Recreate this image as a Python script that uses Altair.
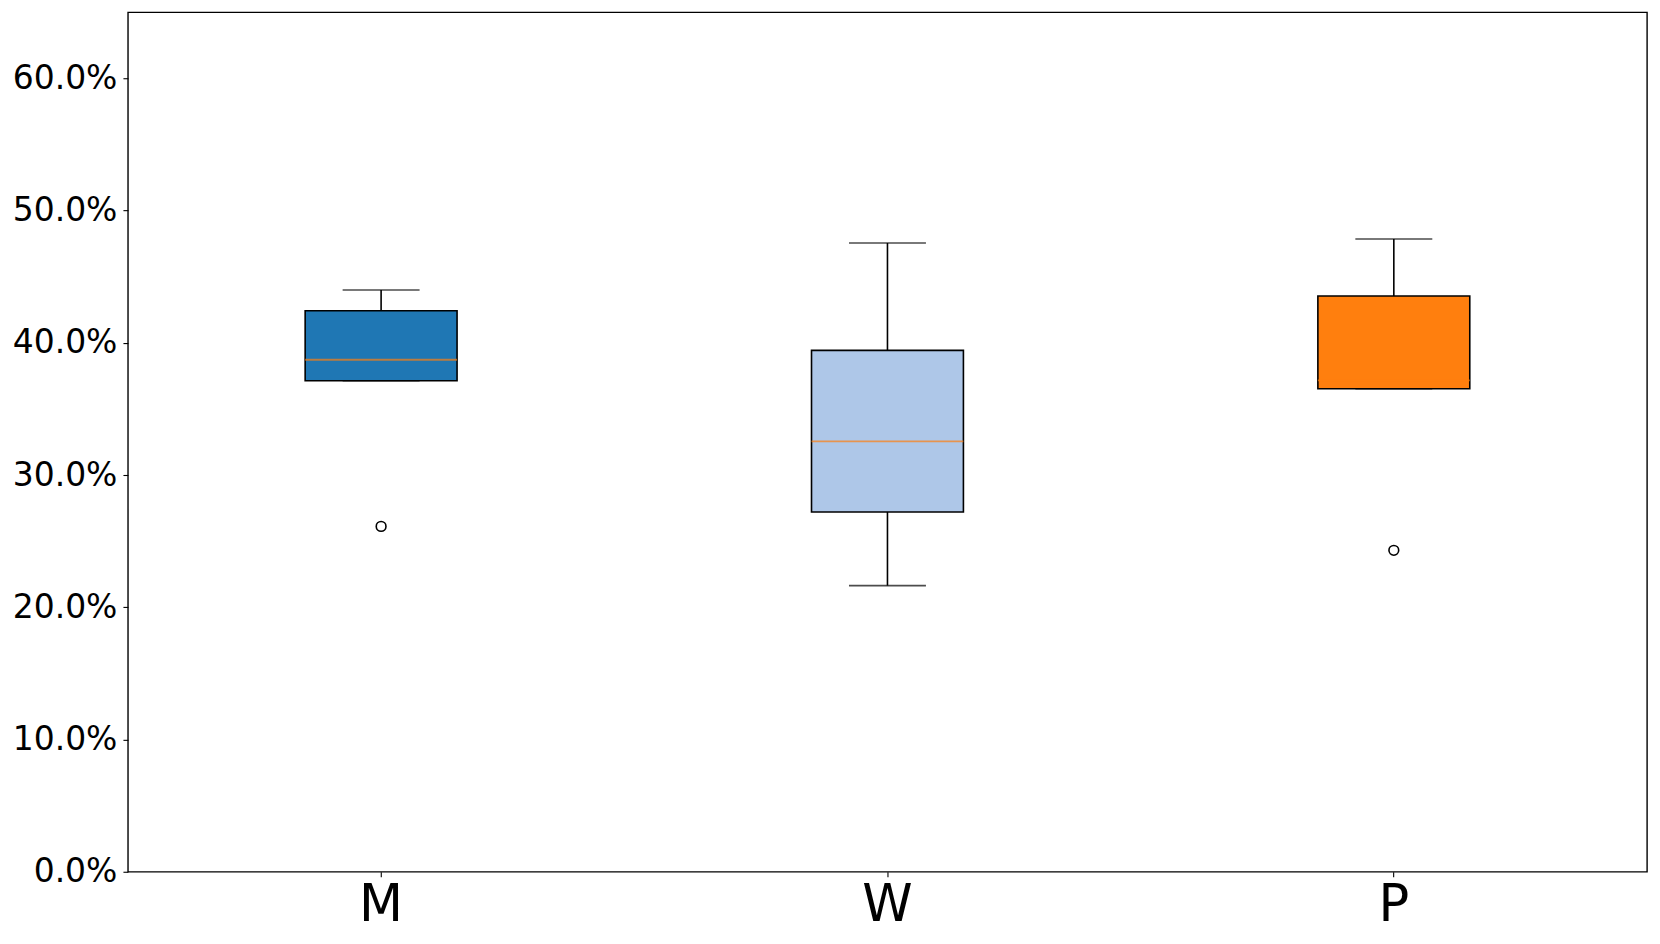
import altair as alt
import pandas as pd

categories = ["M", "W", "P"]
whisker_low = [0.3713, 0.2164, 0.3653]
q1 = [0.3713, 0.2721, 0.3653]
median = [0.3872, 0.3255, 0.3716]
q3 = [0.4243, 0.3943, 0.4354]
whisker_high = [0.4400, 0.4755, 0.4785]
box_colors = ["#1f77b4", "#aec7e8", "#ff7f0e"]

outlier_cats = ["M", "P"]
outlier_vals = [0.2612, 0.2431]

df = pd.DataFrame({
    "cat": categories,
    "lo": whisker_low,
    "q1": q1,
    "med": median,
    "q3": q3,
    "hi": whisker_high,
    "color": box_colors,
})
df_out = pd.DataFrame({"cat": outlier_cats, "val": outlier_vals})

FONT = "DejaVu Sans"
BOX_W = 152
CAP_W = 77
LW = 1.6

xenc = alt.X(
    "cat:N",
    sort=categories,
    scale=alt.Scale(paddingInner=0, paddingOuter=0),
    axis=alt.Axis(
        title=None, labelAngle=0, labelFontSize=51, labelFont=FONT,
        labelColor="black", tickColor="black", tickSize=5, tickWidth=1.1,
        domain=False, labelPadding=4,
    ),
)
yscale = alt.Scale(domain=[0, 0.65], nice=False, zero=True)
yaxis = alt.Axis(
    title=None, format=".1%", values=[0, 0.1, 0.2, 0.3, 0.4, 0.5, 0.6],
    labelFontSize=33, labelFont=FONT, labelColor="black",
    tickColor="black", tickSize=5, tickWidth=1.1, domain=False, grid=False,
    labelPadding=6,
)

base = alt.Chart(df)

whisk_up = base.mark_rule(color="black", strokeWidth=LW).encode(
    x=xenc, y=alt.Y("q3:Q", scale=yscale, axis=yaxis), y2="hi:Q"
)
whisk_lo = base.mark_rule(color="black", strokeWidth=LW).encode(
    x=xenc, y=alt.Y("lo:Q", scale=yscale, axis=yaxis), y2="q1:Q"
)
cap_hi = base.mark_tick(color="black", size=CAP_W, thickness=LW).encode(
    x=xenc, y=alt.Y("hi:Q", scale=yscale, axis=yaxis)
)
cap_lo = base.mark_tick(color="black", size=CAP_W, thickness=LW).encode(
    x=xenc, y=alt.Y("lo:Q", scale=yscale, axis=yaxis)
)
box = base.mark_bar(size=BOX_W, stroke="black", strokeWidth=LW).encode(
    x=xenc,
    y=alt.Y("q1:Q", scale=yscale, axis=yaxis),
    y2="q3:Q",
    fill=alt.Fill("color:N", scale=None),
)
med = base.mark_tick(color="#ff7f0e", size=BOX_W, thickness=1.8).encode(
    x=xenc, y=alt.Y("med:Q", scale=yscale, axis=yaxis)
)
outl = alt.Chart(df_out).mark_point(
    shape="circle", filled=False, color="black", size=95, strokeWidth=LW, opacity=1
).encode(x=xenc, y=alt.Y("val:Q", scale=yscale, axis=yaxis))

chart = alt.layer(whisk_up, whisk_lo, cap_hi, cap_lo, box, med, outl).properties(
    width=1520,
    height=860,
    autosize=alt.AutoSizeParams(type="none"),
    padding={"left": 120, "top": 4, "right": 5, "bottom": 60},
).configure(background="white").configure_view(stroke="black", strokeWidth=1.4)

chart.save("out.html", embed_options={"renderer": "svg", "actions": False})
